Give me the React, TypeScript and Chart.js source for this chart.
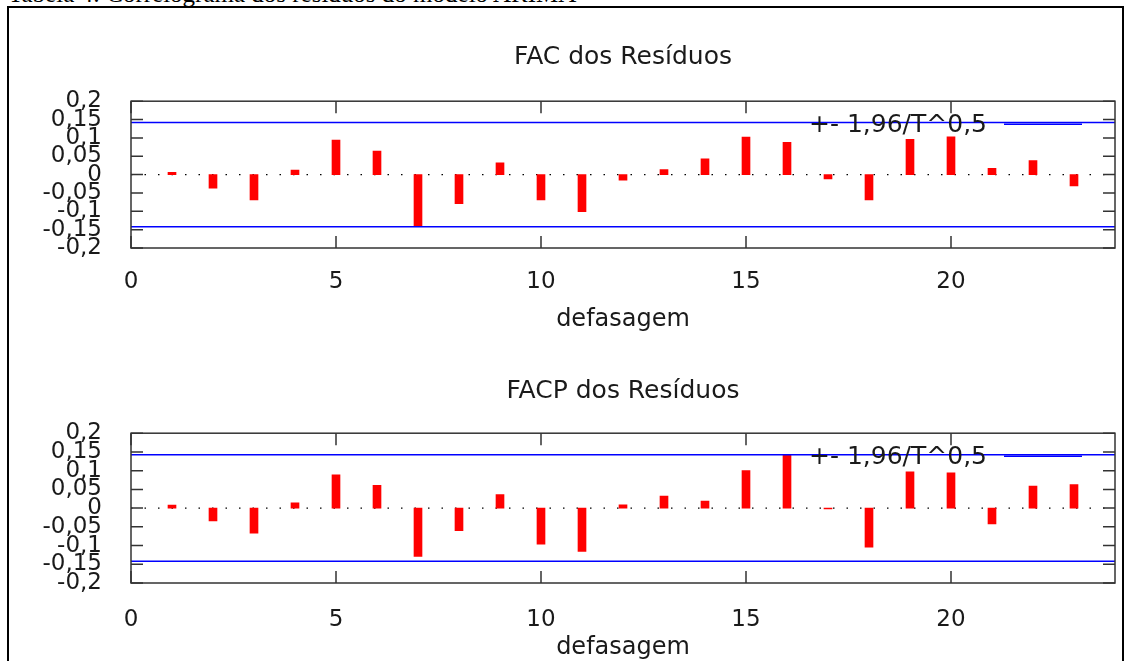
import React, { useEffect, useRef } from 'react';
import { Chart, registerables } from 'chart.js';

Chart.register(...registerables);

// ---- data ----
const lags = [1, 2, 3, 4, 5, 6, 7, 8, 9, 10, 11, 12, 13, 14, 15, 16, 17, 18, 19, 20, 21, 22, 23];
const facValues = [0.006, -0.037, -0.069, 0.012, 0.094, 0.064, -0.139, -0.079, 0.032, -0.069, -0.101, -0.015, 0.014, 0.043, 0.102, 0.088, -0.012, -0.069, 0.096, 0.103, 0.017, 0.038, -0.031];
const facpValues = [0.008, -0.034, -0.067, 0.014, 0.089, 0.061, -0.129, -0.06, 0.036, -0.096, -0.116, 0.009, 0.032, 0.019, 0.1, 0.141, -0.002, -0.104, 0.097, 0.094, -0.042, 0.059, 0.063];
const confidenceBound = 0.1422;
const xMin = 0;
const xMax = 24;
const xTickValues = [0, 5, 10, 15, 20];
const xTickLabels = ['0', '5', '10', '15', '20'];
const yTickLabels = ['-0,2', '-0,15', '-0,1', '-0,05', '0', '0,05', '0,1', '0,15', '0,2'];
const legendLabel = '+- 1,96/T^0,5';
const xAxisTitle = 'defasagem';
const facTitle = 'FAC dos Resíduos';
const facpTitle = 'FACP dos Resíduos';
const captionText = 'Tabela 4: Correlograma dos resíduos do modelo ARIMA';

const FONT = '"DejaVu Sans", sans-serif';
const TEXT = '#1a1a1a';

const framePlugin = {
  id: 'gnuFrame',
  afterDatasetsDraw(chart: any) {
    const { ctx, chartArea: a, scales } = chart;
    const xs = scales.x;
    const ys = scales.y;
    ctx.save();
    ctx.strokeStyle = '#333';
    ctx.lineWidth = 1.5;
    ctx.beginPath();
    const tl = 12;
    ys.ticks.forEach((t: any) => {
      const py = ys.getPixelForValue(t.value);
      ctx.moveTo(a.left, py);
      ctx.lineTo(a.left + tl, py);
      ctx.moveTo(a.right, py);
      ctx.lineTo(a.right - tl, py);
    });
    xs.ticks.forEach((t: any) => {
      const px = xs.getPixelForValue(t.value);
      ctx.moveTo(px, a.top);
      ctx.lineTo(px, a.top + tl);
      ctx.moveTo(px, a.bottom);
      ctx.lineTo(px, a.bottom - tl);
    });
    ctx.stroke();
    ctx.strokeRect(a.left, a.top, a.right - a.left, a.bottom - a.top);

    // key (legend) in the top-right of the plot
    const ds = chart.data.datasets[0];
    const ky = a.top + 23;
    ctx.fillStyle = TEXT;
    ctx.font = '25px ' + FONT;
    ctx.textAlign = 'right';
    ctx.textBaseline = 'middle';
    ctx.fillText(ds.label, a.right - 128, ky + 1);
    ctx.strokeStyle = ds.borderColor;
    ctx.lineWidth = 1.5;
    ctx.beginPath();
    ctx.moveTo(a.right - 111, ky);
    ctx.lineTo(a.right - 33, ky);
    ctx.stroke();
    ctx.restore();
  },
};

type Geom = {
  titleTop: number;
  titleBottom: number;
  xTickPad: number;
  xAxisHeight: number;
  xTitleBottom: number;
};

function buildConfig(title: string, values: number[], g: Geom): any {
  return {
    type: 'bar',
    data: {
      datasets: [
        {
          type: 'line',
          label: legendLabel,
          data: [{ x: xMin, y: confidenceBound }, { x: xMax, y: confidenceBound }],
          borderColor: '#0000ff',
          borderWidth: 1.5,
          pointRadius: 0,
          order: 1,
        },
        {
          type: 'line',
          label: 'lower',
          data: [{ x: xMin, y: -confidenceBound }, { x: xMax, y: -confidenceBound }],
          borderColor: '#0000ff',
          borderWidth: 1.5,
          pointRadius: 0,
          order: 1,
        },
        {
          type: 'line',
          label: 'zero',
          data: [{ x: xMin, y: 0 }, { x: xMax, y: 0 }],
          borderColor: '#000',
          borderWidth: 1.3,
          borderDash: [1.5, 12],
          pointRadius: 0,
          order: 3,
        },
        {
          type: 'bar',
          label: title,
          data: lags.map((l, i) => ({ x: l, y: values[i] })),
          backgroundColor: '#ff0000',
          borderWidth: 0,
          barThickness: 8,
          grouped: false,
          order: 2,
        },
      ],
    },
    options: {
      animation: false,
      responsive: false,
      devicePixelRatio: 1,
      layout: { padding: { left: 0, right: 5, top: 0, bottom: 0 } },
      plugins: {
        legend: { display: false },
        tooltip: { enabled: false },
        title: {
          display: true,
          text: title,
          fullSize: false,
          color: TEXT,
          font: { family: FONT, size: 25, weight: 'normal' },
          padding: { top: g.titleTop, bottom: g.titleBottom },
        },
      },
      scales: {
        x: {
          type: 'linear',
          min: xMin,
          max: xMax,
          offset: false,
          grid: { display: false },
          border: { display: false },
          ticks: {
            stepSize: 5,
            includeBounds: false,
            autoSkip: false,
            maxRotation: 0,
            padding: g.xTickPad,
            color: TEXT,
            font: { family: FONT, size: 23 },
            callback: (v: number) => {
              const k = xTickValues.indexOf(v);
              return k >= 0 ? xTickLabels[k] : '';
            },
          },
          title: {
            display: true,
            text: xAxisTitle,
            color: TEXT,
            font: { family: FONT, size: 24 },
            padding: { top: 0, bottom: g.xTitleBottom },
          },
          afterFit: (s: any) => {
            s.height = g.xAxisHeight;
          },
        },
        y: {
          type: 'linear',
          min: -0.2,
          max: 0.2,
          grid: { display: false },
          border: { display: false },
          ticks: {
            stepSize: 0.05,
            autoSkip: false,
            padding: 21,
            color: TEXT,
            font: { family: FONT, size: 23 },
            callback: (_v: number, i: number) => yTickLabels[i],
          },
          afterFit: (s: any) => {
            s.width = 121;
          },
        },
      },
    },
    plugins: [framePlugin],
  };
}

function Correlogram(props: { title: string; values: number[]; geom: Geom; left: number; top: number; width: number; height: number }) {
  const ref = useRef<HTMLCanvasElement | null>(null);
  useEffect(() => {
    if (!ref.current) return;
    const chart = new Chart(ref.current, buildConfig(props.title, props.values, props.geom));
    return () => chart.destroy();
  }, []);
  return (
    <div style={{ position: 'absolute', left: props.left, top: props.top, width: props.width, height: props.height }}>
      <canvas ref={ref} width={props.width} height={props.height} style={{ width: props.width, height: props.height, display: 'block' }} />
    </div>
  );
}

export default function App() {
  return (
    <div
      style={{
        position: 'fixed',
        left: 0,
        top: 0,
        width: 1130,
        height: 661,
        overflow: 'hidden',
        background: '#fff',
      }}
    >
      <div
        style={{
          position: 'absolute',
          left: 8,
          top: -19,
          fontFamily: '"Liberation Serif", "Times New Roman", serif',
          fontSize: 25,
          lineHeight: '25px',
          whiteSpace: 'nowrap',
          color: '#000',
        }}
      >
        {captionText}
      </div>
      <div
        style={{
          position: 'absolute',
          left: 7,
          top: 6,
          width: 1117,
          height: 700,
          boxSizing: 'border-box',
          border: '2px solid #000',
        }}
      />
      <Correlogram
        title={facTitle}
        values={facValues}
        left={10}
        top={25}
        width={1110}
        height={320}
        geom={{ titleTop: 17, titleBottom: 29.2, xTickPad: 12, xAxisHeight: 97, xTitleBottom: 10.6 }}
      />
      <Correlogram
        title={facpTitle}
        values={facpValues}
        left={10}
        top={355}
        width={1110}
        height={330}
        geom={{ titleTop: 21, titleBottom: 27.2, xTickPad: 15, xAxisHeight: 102, xTitleBottom: 22.6 }}
      />
    </div>
  );
}
